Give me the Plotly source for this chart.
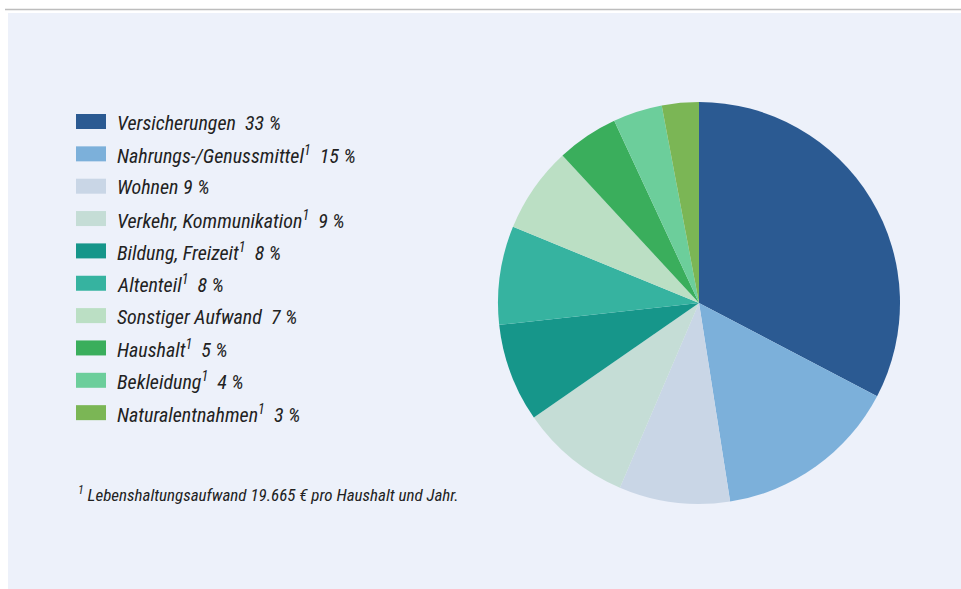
import plotly.graph_objects as go

W, H = 961, 589

categories = ["Versicherungen", "Nahrungs-/Genussmittel", "Wohnen", "Verkehr, Kommunikation",
              "Bildung, Freizeit", "Altenteil", "Sonstiger Aufwand", "Haushalt",
              "Bekleidung", "Naturalentnahmen"]
values = [33, 15, 9, 9, 8, 8, 7, 5, 4, 3]
footnote_flag = [False, True, False, True, True, True, False, True, True, True]
colors = ["#2B5A92", "#7CB0DA", "#C9D6E6", "#C5DDD6", "#16968A",
          "#36B3A0", "#BBDFC4", "#3AAE5C", "#6CCE9B", "#7BB655"]
footnote_text = "Lebenshaltungsaufwand 19.665 € pro Haushalt und Jahr."

FONT = "Roboto Condensed, Roboto, sans-serif"
TEXTCOL = "#222222"

def px(x):
    return x / W

def py(y):
    return 1 - y / H

fig = go.Figure()
fig.add_trace(go.Pie(
    labels=categories, values=values, sort=False, direction="clockwise", rotation=0,
    marker=dict(colors=colors, line=dict(width=0)),
    textinfo="none", hoverinfo="label+value", showlegend=False,
    domain=dict(x=[px(498), px(900)], y=[py(504), py(102)]),
))

shapes = [
    dict(type="rect", xref="paper", yref="paper", x0=px(8), x1=1, y0=0, y1=py(13),
         fillcolor="#EDF1FA", line=dict(width=0), layer="below"),
    dict(type="line", xref="paper", yref="paper", x0=px(5), x1=1, y0=py(9.5), y1=py(9.5),
         line=dict(color="#BDBDBD", width=1.5)),
]
annotations = []
row0, step = 121.5, 32.35
for i, (cat, v, fn, c) in enumerate(zip(categories, values, footnote_flag, colors)):
    yc = row0 + i * step
    shapes.append(dict(type="rect", xref="paper", yref="paper",
                       x0=px(76), x1=px(106), y0=py(yc + 7.5), y1=py(yc - 7.5),
                       fillcolor=c, line=dict(width=0)))
    sup = "<sup>1</sup>" if fn else ""
    sep = "\u00a0\u00a0" if (fn or i == 0 or cat == "Sonstiger Aufwand") else "\u00a0"
    txt = f"<i>{cat}{sup}{sep}{v}\u00a0%</i>"
    annotations.append(dict(x=px(115), y=py(yc + 1), xref="paper", yref="paper",
                            xanchor="left", yanchor="middle", showarrow=False,
                            text=txt, font=dict(family=FONT, size=20, color=TEXTCOL)))

annotations.append(dict(x=px(76), y=py(494), xref="paper", yref="paper",
                        xanchor="left", yanchor="middle", showarrow=False,
                        text=f"<i><sup>1</sup> {footnote_text}</i>",
                        font=dict(family=FONT, size=17, color=TEXTCOL)))

fig.update_layout(
    width=W, height=H, margin=dict(l=0, r=0, t=0, b=0),
    paper_bgcolor="white", plot_bgcolor="white",
    shapes=shapes, annotations=annotations,
)
fig.write_html(
    "out.html",
    config={"displayModeBar": False},
    post_script="document.body.style.margin='0';document.body.style.overflow='hidden';",
)
